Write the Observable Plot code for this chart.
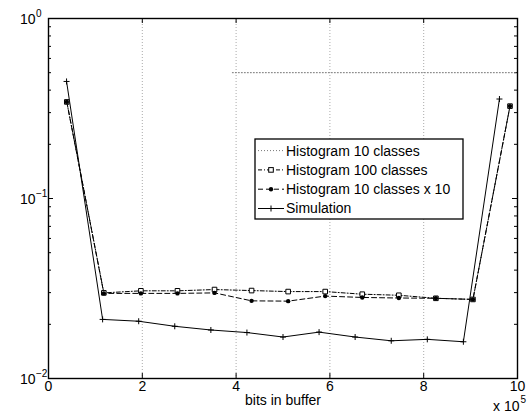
<!DOCTYPE html>
<html>
<head>
<meta charset="utf-8">
<script src="https://cdn.jsdelivr.net/npm/d3@7"></script>
<script src="https://cdn.jsdelivr.net/npm/@observablehq/plot@0.6"></script>
<style>
  html, body { margin: 0; padding: 0; background: #fff; }
  svg { display: block; }
</style>
</head>
<body>
<script>
// ---- data (x in units of 10^5 bits) ----
const xSim = [0.385, 1.154, 1.923, 2.692, 3.462, 4.231, 5.0, 5.769, 6.538, 7.308, 8.077, 8.846, 9.615];
const ySim = [0.447, 0.0213, 0.0208, 0.0195, 0.0186, 0.0180, 0.0170, 0.0181, 0.0170, 0.0162, 0.0165, 0.0160, 0.357];
const xHist = [0.39, 1.18, 1.97, 2.75, 3.54, 4.33, 5.11, 5.90, 6.69, 7.47, 8.26, 9.05, 9.84];
const yHist100 = [0.344, 0.0299, 0.0307, 0.0307, 0.0312, 0.0308, 0.0304, 0.0304, 0.0294, 0.0290, 0.0279, 0.0275, 0.326];
const yHist10x10 = [0.344, 0.0297, 0.0297, 0.0297, 0.0299, 0.0270, 0.0269, 0.0287, 0.0282, 0.0280, 0.0279, 0.0275, 0.326];
const xHist10 = [3.92, 10];
const yHist10 = [0.5, 0.5];

const seriesNames = ["Histogram 10 classes", "Histogram 100 classes", "Histogram 10 classes x 10", "Simulation"];
const xTicks = [0, 2, 4, 6, 8, 10];
const xGrid = [2, 4, 6, 8];
const yMajor = [0.01, 0.1, 1];
const yExponents = ["\u22122", "\u22121", "0"];
const yMinor = [0.02, 0.03, 0.04, 0.05, 0.06, 0.07, 0.08, 0.09, 0.2, 0.3, 0.4, 0.5, 0.6, 0.7, 0.8, 0.9];
const xLabel = "bits in buffer";
const xMultiplier = "x 10";
const xMultiplierExp = "5";

const zip = (xs, ys) => xs.map((x, i) => ({x, y: ys[i]}));
const sim = zip(xSim, ySim);
const h100 = zip(xHist, yHist100);
const h10x10 = zip(xHist, yHist10x10);
const h10 = zip(xHist10, yHist10);

const W = 528, H = 417, mL = 48, mR = 11, mT = 18, mB = 39;
const pw = W - mL - mR, ph = H - mT - mB;
const FONT = "'Liberation Sans', Arial, Helvetica, sans-serif";

// thin "+" marker
const thinPlus = {
  draw(ctx, size) {
    const r = Math.sqrt(size / Math.PI);
    ctx.moveTo(-r, 0); ctx.lineTo(r, 0);
    ctx.moveTo(0, -r); ctx.lineTo(0, r);
  }
};

const styles = [
  {dash: "1,2", stroke: "#777"},
  {dash: "4,2,1,2", stroke: "#000"},
  {dash: "5,3", stroke: "#000"},
  {dash: null, stroke: "#000"}
];

const chart = Plot.plot({
  width: W, height: H,
  marginLeft: mL, marginRight: mR, marginTop: mT, marginBottom: mB,
  style: {fontFamily: FONT, fontSize: "14px", background: "#fff", color: "#000"},
  x: {domain: [0, 10], axis: null},
  y: {type: "log", domain: [0.01, 1], axis: null},
  marks: [
    // grid
    Plot.ruleX(xGrid, {x: d => d, stroke: "#aaa", strokeWidth: 1, strokeDasharray: "1,2"}),
    // inside ticks
    Plot.ruleX(xTicks, {x: d => d, insetTop: ph - 5, stroke: "#000"}),
    Plot.ruleX(xTicks, {x: d => d, insetBottom: ph - 5, stroke: "#000"}),
    Plot.ruleY(yMajor, {y: d => d, insetRight: pw - 5, stroke: "#000"}),
    Plot.ruleY(yMajor, {y: d => d, insetLeft: pw - 5, stroke: "#000"}),
    Plot.ruleY(yMinor, {y: d => d, insetRight: pw - 3, stroke: "#000"}),
    Plot.ruleY(yMinor, {y: d => d, insetLeft: pw - 3, stroke: "#000"}),
    // x tick labels
    Plot.text(xTicks, {x: d => d, frameAnchor: "bottom", text: d => String(d), dy: 12.6, fontSize: 14}),
    // y tick labels with superscript exponents
    Plot.text(yMajor, {y: d => d, frameAnchor: "left", text: () => "10", textAnchor: "start", dx: -28.5, dy: 1.5, fontSize: 14}),
    Plot.text(yMajor, {y: d => d, frameAnchor: "left", text: (d, i) => yExponents[i], textAnchor: "start", dx: -12.5, dy: -5, fontSize: 10}),
    // axis label and multiplier
    Plot.text([xLabel], {frameAnchor: "bottom", text: d => d, dy: 26.5, fontSize: 14}),
    Plot.text([xMultiplier], {frameAnchor: "bottom-right", text: d => d, textAnchor: "end", dx: 2, dy: 32.5, fontSize: 14}),
    Plot.text([xMultiplierExp], {frameAnchor: "bottom-right", text: d => d, textAnchor: "start", dx: 3, dy: 24, fontSize: 10}),
    // data
    Plot.line(h10, {x: "x", y: "y", stroke: styles[0].stroke, strokeWidth: 1, strokeDasharray: styles[0].dash, clip: true}),
    Plot.line(h100, {x: "x", y: "y", stroke: "#000", strokeWidth: 1, strokeDasharray: styles[1].dash}),
    Plot.line(h10x10, {x: "x", y: "y", stroke: "#000", strokeWidth: 1, strokeDasharray: styles[2].dash}),
    Plot.line(sim, {x: "x", y: "y", stroke: "#000", strokeWidth: 1}),
    Plot.dot(h100, {x: "x", y: "y", symbol: "square", r: 2.6, stroke: "#000", fill: "#fff", strokeWidth: 1}),
    Plot.dot(h10x10, {x: "x", y: "y", symbol: "circle", r: 2.2, fill: "#000", stroke: "none"}),
    Plot.dot(sim, {x: "x", y: "y", symbol: thinPlus, r: 3, stroke: "#000", fill: "none", strokeWidth: 1}),
    Plot.frame({stroke: "#000", strokeWidth: 1.4})
  ]
});
document.body.appendChild(chart);

// legend drawn inside the axes
const svg = d3.select(chart);
const lg = svg.append("g").attr("font-family", FONT).attr("font-size", 14).attr("text-anchor", "start");
const lx = 255, ly = 139, lw = 208, lh = 80, row = 19.3, r0 = 150.6;
lg.append("rect").attr("x", lx).attr("y", ly).attr("width", lw).attr("height", lh)
  .attr("fill", "#fff").attr("stroke", "#000").attr("stroke-width", 1.3);
seriesNames.forEach((name, i) => {
  const y = r0 + i * row;
  const ln = lg.append("line").attr("x1", 258).attr("x2", 284).attr("y1", y).attr("y2", y)
    .attr("stroke", styles[i].stroke).attr("stroke-width", 1);
  if (styles[i].dash) ln.attr("stroke-dasharray", styles[i].dash);
  const cx = 271;
  if (i === 1) lg.append("rect").attr("x", cx - 2.3).attr("y", y - 2.3).attr("width", 4.6).attr("height", 4.6)
    .attr("fill", "#fff").attr("stroke", "#000");
  if (i === 2) lg.append("circle").attr("cx", cx).attr("cy", y).attr("r", 2.2).attr("fill", "#000");
  if (i === 3) lg.append("path").attr("d", `M${cx - 3},${y}H${cx + 3}M${cx},${y - 3}V${y + 3}`).attr("stroke", "#000").attr("fill", "none");
  lg.append("text").attr("x", 286).attr("y", y).attr("dy", "0.35em").attr("text-anchor", "start").text(name);
});
</script>
</body>
</html>
